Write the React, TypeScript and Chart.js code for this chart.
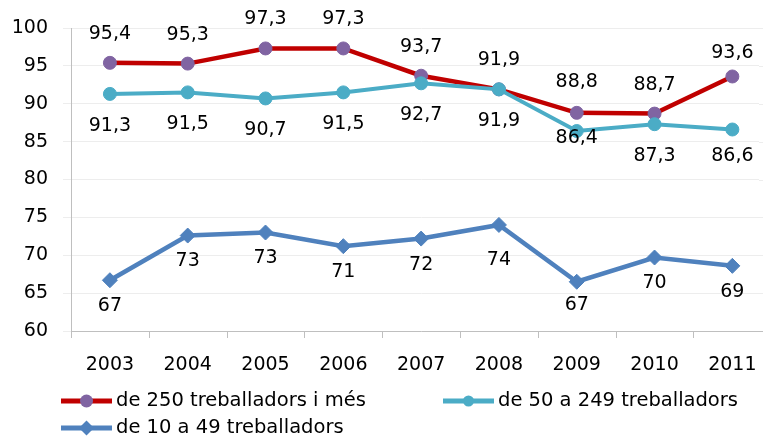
import React, { useEffect, useRef } from 'react';
import { Chart, registerables } from 'chart.js';

Chart.register(...registerables);

// ---- data ----
const years = ['2003', '2004', '2005', '2006', '2007', '2008', '2009', '2010', '2011'];
const seriesNames = ['de 250 treballadors i més', 'de 50 a 249 treballadors', 'de 10 a 49 treballadors'];
const large = [95.4, 95.3, 97.3, 97.3, 93.7, 91.9, 88.8, 88.7, 93.6];
const medium = [91.3, 91.5, 90.7, 91.5, 92.7, 91.9, 86.4, 87.3, 86.6];
const small = [66.7, 72.6, 73.0, 71.2, 72.2, 74.0, 66.5, 69.7, 68.6];
const yTicks = [60, 65, 70, 75, 80, 85, 90, 95, 100];

// ---- styles ----
const RED = '#C00000';
const PURPLE = '#8064A2';
const CYAN = '#4BACC6';
const BLUE = '#4F81BD';
const FONT = '"DejaVu Sans", sans-serif';
const AXIS = '#BFBFBF';
const GRID = '#EDEDED';

const fmt1 = (v: number) => v.toFixed(1).replace('.', ',');
const fmt0 = (v: number) => String(Math.round(v));

const labelStyle = [
  { dy: -29, nudge: { 6: -31, 8: -23 } as Record<number, number>, fmt: fmt1 },
  { dy: 32, nudge: { 6: 7, 8: 27 } as Record<number, number>, fmt: fmt1 },
  { dy: 26, nudge: { 5: 35, 6: 23 } as Record<number, number>, fmt: fmt0 },
];

const labelPlugin = {
  id: 'valueLabels',
  afterDatasetsDraw(chart: any) {
    const ctx = chart.ctx;
    ctx.save();
    ctx.font = `19px ${FONT}`;
    ctx.fillStyle = '#000';
    ctx.textAlign = 'center';
    ctx.textBaseline = 'middle';
    chart.data.datasets.forEach((ds: any, i: number) => {
      const meta = chart.getDatasetMeta(i);
      const st = labelStyle[i];
      meta.data.forEach((pt: any, j: number) => {
        const dy = st.nudge[j] !== undefined ? st.nudge[j] : st.dy;
        ctx.fillText(st.fmt(ds.data[j]), pt.x, pt.y + dy);
      });
    });
    ctx.restore();
  },
};

// category-boundary tick marks below the x axis
const xTickPlugin = {
  id: 'xBoundaryTicks',
  afterDraw(chart: any) {
    const ctx = chart.ctx;
    const xs = chart.scales.x;
    const bottom = chart.chartArea.bottom;
    ctx.save();
    ctx.strokeStyle = AXIS;
    ctx.lineWidth = 1;
    ctx.beginPath();
    for (let i = 0; i <= years.length; i++) {
      const px = Math.round(xs.getPixelForValue(i - 0.5)) + 0.5;
      ctx.moveTo(px, bottom);
      ctx.lineTo(px, bottom + 7);
    }
    ctx.stroke();
    ctx.restore();
  },
};

// clean the far-right strip of the plot (the plot continues past the visible edge)
const edgePlugin = {
  id: 'edgeClean',
  afterDraw(chart: any) {
    const { ctx, chartArea, scales } = chart;
    const x0 = 759;
    ctx.save();
    ctx.fillStyle = '#fff';
    ctx.fillRect(x0, chartArea.top - 3, chart.width - x0, chartArea.bottom - chartArea.top + 2);
    ctx.strokeStyle = GRID;
    ctx.lineWidth = 1;
    ctx.beginPath();
    yTicks.slice(1).forEach((v) => {
      const py = Math.round(scales.y.getPixelForValue(v)) + 0.5;
      ctx.moveTo(x0, py);
      ctx.lineTo(chart.width, py);
    });
    ctx.stroke();
    ctx.restore();
  },
};

const legendLayout = [
  { x: 61, y: 401, line: RED, fill: PURPLE, shape: 'circle', r: 6.5 },
  { x: 443, y: 401, line: CYAN, fill: CYAN, shape: 'circle', r: 5.5 },
  { x: 61, y: 428, line: BLUE, fill: BLUE, shape: 'diamond', r: 7.5 },
];

const legendPlugin = {
  id: 'customLegend',
  afterDraw(chart: any) {
    const ctx = chart.ctx;
    ctx.save();
    legendLayout.forEach((it, i) => {
      const len = 51;
      ctx.strokeStyle = it.line;
      ctx.lineWidth = 5;
      ctx.lineCap = 'butt';
      ctx.beginPath();
      ctx.moveTo(it.x, it.y);
      ctx.lineTo(it.x + len, it.y);
      ctx.stroke();
      const cx = it.x + len / 2;
      ctx.fillStyle = it.fill;
      ctx.beginPath();
      if (it.shape === 'circle') {
        ctx.arc(cx, it.y, it.r, 0, Math.PI * 2);
      } else {
        ctx.moveTo(cx - it.r, it.y);
        ctx.lineTo(cx, it.y - it.r);
        ctx.lineTo(cx + it.r, it.y);
        ctx.lineTo(cx, it.y + it.r);
        ctx.closePath();
      }
      ctx.fill();
      ctx.font = `19.5px ${FONT}`;
      ctx.fillStyle = '#000';
      ctx.textAlign = 'left';
      ctx.textBaseline = 'middle';
      ctx.fillText(seriesNames[i], it.x + len + 4, it.y);
    });
    ctx.restore();
  },
};

export default function App() {
  const ref = useRef<HTMLCanvasElement>(null);
  useEffect(() => {
    if (!ref.current) return;
    const chart = new Chart(ref.current, {
      type: 'line',
      data: {
        labels: years,
        datasets: [
          {
            label: seriesNames[0],
            data: large,
            borderColor: RED,
            borderWidth: 4.5,
            pointBackgroundColor: PURPLE,
            pointBorderColor: PURPLE,
            pointBorderWidth: 1,
            pointRadius: 6.5,
            pointStyle: 'circle',
            tension: 0,
            order: 1,
          },
          {
            label: seriesNames[1],
            data: medium,
            borderColor: CYAN,
            borderWidth: 4,
            pointBackgroundColor: CYAN,
            pointBorderColor: CYAN,
            pointBorderWidth: 1,
            pointRadius: 6.5,
            pointStyle: 'circle',
            tension: 0,
            order: 0,
          },
          {
            label: seriesNames[2],
            data: small,
            borderColor: BLUE,
            borderWidth: 4.5,
            pointBackgroundColor: BLUE,
            pointBorderColor: BLUE,
            pointBorderWidth: 1,
            pointRadius: 7.5,
            pointStyle: 'rectRot',
            tension: 0,
            order: 2,
          },
        ],
      },
      options: {
        responsive: false,
        animation: false,
        events: [],
        layout: { padding: { top: 28, left: 0, right: 0, bottom: 0 } },
        plugins: {
          legend: { display: false },
          tooltip: { enabled: false },
          title: { display: false },
        },
        scales: {
          x: {
            type: 'category',
            offset: true,
            grid: {
              display: true,
              drawOnChartArea: false,
              drawTicks: false,
              color: 'rgba(0,0,0,0)',
              offset: true,
            },
            border: { display: true, color: AXIS, width: 1 },
            ticks: {
              color: '#000',
              font: { family: FONT, size: 19 },
              padding: 23,
              maxRotation: 0,
              autoSkip: false,
            },
            afterFit: (s: any) => {
              s.height = 106;
            },
          },
          y: {
            min: yTicks[0],
            max: yTicks[yTicks.length - 1],
            afterBuildTicks: (s: any) => {
              s.ticks = yTicks.map((v) => ({ value: v }));
            },
            grid: {
              color: GRID,
              tickColor: GRID,
              tickLength: 8,
              lineWidth: 1,
            },
            border: { display: true, color: AXIS, width: 1 },
            ticks: {
              color: '#000',
              font: { family: FONT, size: 19 },
              padding: 15,
            },
            afterFit: (s: any) => {
              s.width = 71;
            },
          },
        },
      },
      plugins: [xTickPlugin, edgePlugin, labelPlugin, legendPlugin],
    });
    return () => chart.destroy();
  }, []);

  return (
    <div
      style={{
        position: 'absolute',
        left: 0,
        top: 0,
        width: 763,
        height: 437,
        overflow: 'hidden',
        background: '#fff',
      }}
    >
      <canvas ref={ref} width={780} height={437} style={{ display: 'block' }} />
    </div>
  );
}
